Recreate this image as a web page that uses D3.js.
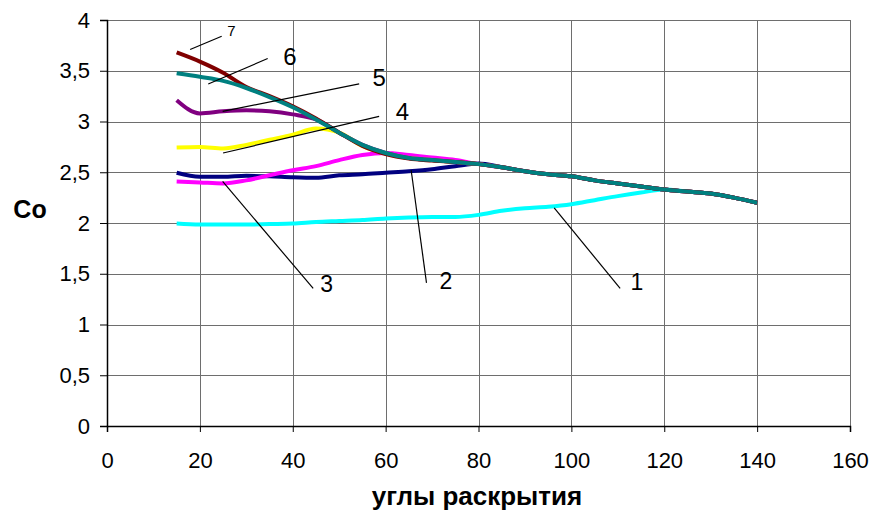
<!DOCTYPE html>
<html>
<head>
<meta charset="utf-8">
<script src="https://cdn.jsdelivr.net/npm/d3@7"></script>
<style>
  body { margin: 0; background: #fff; }
  text { font-family: "Liberation Sans", Arial, sans-serif; }
</style>
</head>
<body>
<div id="chart"></div>
<script>
// Set dimensions
var svgWidth = 873;
var svgHeight = 515;

var margin = { top: 20, right: 23, bottom: 89, left: 107 };

var width = svgWidth - margin.left - margin.right;
var height = svgHeight - margin.top - margin.bottom;

// data: x positions (opening angle) and Co for each curve
var angles = [15, 20, 25, 30, 35, 40, 45, 50, 55, 60, 65, 70, 75, 80, 85, 90, 95, 100, 105, 110, 115, 120, 125, 130, 135, 140];

var curve1 = [1.995, 1.985, 1.985, 1.985, 1.99, 1.995, 2.01, 2.02, 2.03, 2.045, 2.055, 2.06, 2.06, 2.08, 2.12, 2.145, 2.16, 2.185, 2.225, 2.265, 2.30, 2.33, 2.31, 2.29, 2.25, 2.20];
var curve2 = [2.495, 2.455, 2.455, 2.465, 2.46, 2.45, 2.445, 2.47, 2.48, 2.495, 2.51, 2.53, 2.56, 2.585, 2.55, 2.51, 2.48, 2.46, 2.42, 2.39, 2.36, 2.33, 2.31, 2.29, 2.25, 2.20];
var curve3 = [2.41, 2.40, 2.39, 2.42, 2.47, 2.52, 2.56, 2.62, 2.67, 2.69, 2.67, 2.645, 2.62, 2.58, 2.55, 2.51, 2.48, 2.46, 2.42, 2.39, 2.36, 2.33, 2.31, 2.29, 2.25, 2.20];
var curve4 = [2.745, 2.75, 2.735, 2.77, 2.82, 2.87, 2.93, 2.89, 2.76, 2.685, 2.64, 2.62, 2.60, 2.58, 2.55, 2.51, 2.48, 2.46, 2.42, 2.39, 2.36, 2.33, 2.31, 2.29, 2.25, 2.20];
var curve5 = [3.21, 3.08, 3.10, 3.11, 3.10, 3.07, 3.02, 2.89, 2.77, 2.69, 2.64, 2.62, 2.60, 2.58, 2.55, 2.51, 2.48, 2.46, 2.42, 2.39, 2.36, 2.33, 2.31, 2.29, 2.25, 2.20];
var curve6 = [3.475, 3.44, 3.40, 3.33, 3.24, 3.14, 3.02, 2.89, 2.77, 2.69, 2.64, 2.62, 2.60, 2.58, 2.55, 2.51, 2.48, 2.46, 2.42, 2.39, 2.36, 2.33, 2.31, 2.29, 2.25, 2.20];
var curve7 = [3.68, 3.59, 3.48, 3.34, 3.25, 3.15, 3.03, 2.89, 2.76, 2.68, 2.635, 2.615, 2.60, 2.58, 2.55, 2.51, 2.48, 2.46, 2.42, 2.39, 2.36, 2.33, 2.31, 2.29, 2.25, 2.20];

// drawing order: 1..5, then 7, then 6 on top
var seriesNames = ["1", "2", "3", "4", "5", "7", "6"];
var seriesValues = [curve1, curve2, curve3, curve4, curve5, curve7, curve6];
var seriesColors = ["#00ffff", "#000080", "#ff00ff", "#ffff00", "#800080", "#800000", "#008080"];

var xTicks = [0, 20, 40, 60, 80, 100, 120, 140, 160];
var yTicks = [0, 0.5, 1, 1.5, 2, 2.5, 3, 3.5, 4];

// curve number labels with leader lines (data units)
var labelText = ["7", "6", "5", "4", "3", "2", "1"];
var labelFrom = [[17.9, 3.71], [21.8, 3.37], [24.9, 3.10], [25.0, 2.69], [24.9, 2.41], [65.5, 2.52], [96.3, 2.15]];
var labelTo = [[24.7, 3.84], [34.6, 3.62], [54.3, 3.37], [58.6, 3.05], [44.4, 1.355], [68.8, 1.41], [110.5, 1.355]];
var labelAt = [[26.8, 3.90], [39.4, 3.64], [58.6, 3.43], [63.6, 3.10], [47.3, 1.40], [73.0, 1.43], [114.1, 1.42]];
var labelSize = [15, 24, 24, 24, 23, 23, 23];

var svg = d3.select("#chart")
  .append("svg")
  .attr("width", svgWidth)
  .attr("height", svgHeight)
  .style("background", "#fff");

var chartGroup = svg.append("g")
  .attr("transform", `translate(${margin.left}, ${margin.top})`);

var xScale = d3.scaleLinear().domain([0, 160]).range([0, width]);
var yScale = d3.scaleLinear().domain([0, 4]).range([height, 0]);

// gridlines
chartGroup.append("g")
  .selectAll("line")
  .data(yTicks.slice(1))
  .enter().append("line")
  .attr("x1", 0).attr("x2", width)
  .attr("y1", d => Math.round(yScale(d)) + 0.5)
  .attr("y2", d => Math.round(yScale(d)) + 0.5)
  .attr("stroke", "#6e6e6e");

chartGroup.append("g")
  .selectAll("line")
  .data(xTicks.slice(1))
  .enter().append("line")
  .attr("y1", 0).attr("y2", height)
  .attr("x1", d => Math.round(xScale(d)) + 0.5)
  .attr("x2", d => Math.round(xScale(d)) + 0.5)
  .attr("stroke", "#6e6e6e");

// axes
var bottomAxis = d3.axisBottom(xScale).tickValues(xTicks).tickSize(6).tickPadding(20)
  .tickFormat(d3.format("d"));
var leftAxis = d3.axisLeft(yScale).tickValues(yTicks).tickSize(7).tickPadding(10)
  .tickFormat(d => String(d).replace(".", ","));

var xAxisG = chartGroup.append("g")
  .attr("transform", `translate(0, ${height})`)
  .call(bottomAxis);
var yAxisG = chartGroup.append("g").call(leftAxis);

[xAxisG, yAxisG].forEach(function(g) {
  g.select(".domain").attr("stroke", "#000").attr("stroke-width", 1.5);
  g.selectAll(".tick line").attr("stroke", "#000");
  g.selectAll(".tick text")
    .attr("fill", "#000")
    .style("font-size", "22px")
    .style("font-family", "'Liberation Sans', Arial, sans-serif");
});

// lines
var line = d3.line()
  .x((d, i) => xScale(angles[i]))
  .y(d => yScale(d))
  .curve(d3.curveMonotoneX);

chartGroup.selectAll(".series")
  .data(seriesValues)
  .enter().append("path")
  .attr("class", "series")
  .attr("d", d => line(d))
  .attr("fill", "none")
  .attr("stroke", (d, i) => seriesColors[i])
  .attr("stroke-width", 4)
  .attr("stroke-linejoin", "round");

// leader lines and curve numbers
chartGroup.selectAll(".leader")
  .data(labelText)
  .enter().append("line")
  .attr("class", "leader")
  .attr("x1", (d, i) => xScale(labelFrom[i][0]))
  .attr("y1", (d, i) => yScale(labelFrom[i][1]))
  .attr("x2", (d, i) => xScale(labelTo[i][0]))
  .attr("y2", (d, i) => yScale(labelTo[i][1]))
  .attr("stroke", "#000")
  .attr("stroke-width", 1.2);

chartGroup.selectAll(".num")
  .data(labelText)
  .enter().append("text")
  .attr("class", "num")
  .attr("x", (d, i) => xScale(labelAt[i][0]))
  .attr("y", (d, i) => yScale(labelAt[i][1]))
  .attr("dy", "0.36em")
  .attr("text-anchor", "middle")
  .style("font-size", (d, i) => labelSize[i] + "px")
  .text(d => d);

// axis titles
svg.append("text")
  .attr("x", 30)
  .attr("y", 209)
  .attr("dy", "0.36em")
  .attr("text-anchor", "middle")
  .style("font-size", "25px")
  .style("font-weight", "bold")
  .text("Co");

svg.append("text")
  .attr("x", 477)
  .attr("y", 505)
  .attr("text-anchor", "middle")
  .style("font-size", "26px")
  .style("font-weight", "bold")
  .text("углы раскрытия");
</script>
</body>
</html>
